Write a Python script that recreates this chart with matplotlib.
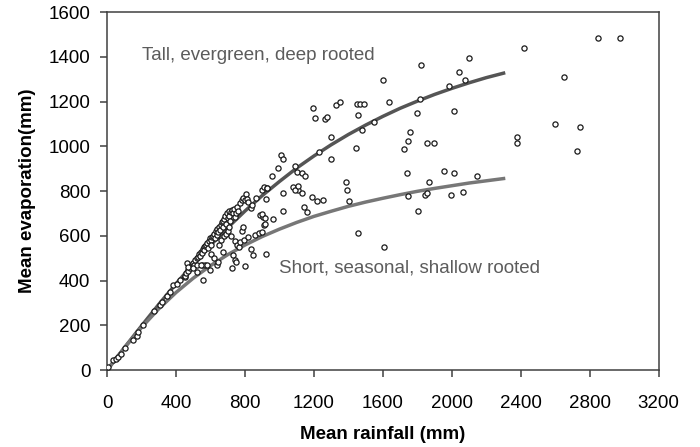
import matplotlib
matplotlib.use("Agg")
from matplotlib import pyplot as plt

plt.rcParams['font.family'] = ['Liberation Sans', 'DejaVu Sans']

# curves: tall/evergreen (upper) and short/seasonal (lower)
curve_rain = [0, 100, 200, 300, 400, 500, 600, 700, 800, 900, 1000, 1100, 1200, 1300,
              1400, 1500, 1600, 1700, 1800, 1900, 2000, 2100, 2200, 2300]
tall_evap = [0, 100, 198, 294, 386, 475, 558, 637, 711, 780, 843, 903, 957, 1007,
             1053, 1095, 1134, 1170, 1202, 1232, 1259, 1284, 1307, 1327]
short_evap = [0, 99, 191, 274, 347, 411, 467, 516, 559, 597, 630, 660, 687, 710,
              732, 751, 768, 784, 799, 812, 824, 836, 846, 856]

# catchment points (rainfall, evaporation)
rain = [8, 37, 50, 66, 81, 104, 153, 172, 181, 210, 274, 307, 321, 346,
        365, 384, 403, 423, 452, 462, 471, 491, 520, 549, 568,
        450, 460, 470, 480, 490, 500, 505, 510, 520, 530, 535, 540, 545, 550, 555,
        560, 565, 570, 575, 580, 585, 590, 595, 600, 605, 610, 615, 620, 625, 630,
        635, 640, 645, 650, 655, 660, 665, 670, 675, 680, 685, 690, 695, 700, 705,
        710, 715, 720, 725, 730, 735, 740, 745, 755, 760, 770, 780, 790,
        470, 500, 520, 545, 559, 578, 597, 600, 620, 636, 645, 650, 660, 674, 680,
        690, 700, 710, 720, 723, 732, 742, 742, 746, 751, 765, 771, 780, 790, 796,
        800, 800, 806, 813, 816, 817, 835, 835, 842, 848, 858, 862, 881, 887, 897,
        900, 902, 910, 912, 916, 920, 926, 955, 964, 929, 922, 897, 914,
        1010, 1018, 993, 1090, 1099, 1128, 1148, 1231, 1299, 1299, 1443, 1196, 1206,
        1264, 1273, 1328, 1354, 1447, 1467, 1490, 1457, 1022, 1080, 1109, 1128, 1186,
        1215, 1254, 1386, 1393, 1401, 1142, 1158, 1018, 1457, 1607, 1088, 1107,
        1598, 2043, 2079, 1983, 1637, 1814, 1795, 2013, 1548, 1480, 1760, 1747, 1720,
        1853, 1896, 1820, 2099, 2419, 2848, 2977, 2651, 2597, 2742, 2379, 2379, 2726,
        1737, 1954, 2013, 2147, 1867, 1747, 1843, 1853, 1994, 2066, 1805]
evap = [15, 45, 50, 60, 70, 97, 134, 152, 171, 201, 265, 291, 305, 331,
        350, 380, 387, 402, 417, 477, 447, 469, 439, 469, 469,
        420, 435, 445, 455, 470, 480, 470, 490, 500, 505, 520, 510, 530, 525, 540,
        550, 535, 555, 560, 570, 545, 575, 590, 580, 560, 595, 600, 610, 590, 620,
        605, 630, 615, 640, 625, 650, 660, 640, 665, 675, 690, 655, 700, 680, 710,
        690, 665, 705, 715, 700, 720, 685, 700, 730, 710, 745, 760, 770,
        460, 455, 470, 469, 402, 469, 447, 520, 500, 469, 484, 560, 580, 529, 600,
        610, 620, 640, 600, 457, 514, 492, 577, 481, 559, 551, 571, 620, 640, 581,
        466, 760, 787, 764, 596, 752, 541, 723, 737, 514, 606, 767, 611, 693, 615,
        804, 685, 819, 648, 651, 521, 812, 869, 675, 815, 764, 696, 678,
        961, 942, 901, 913, 887, 879, 867, 976, 942, 1040, 994, 1173, 1125,
        1122, 1132, 1183, 1199, 1190, 1190, 1190, 1140, 790, 819, 804, 790, 775,
        755, 760, 842, 803, 757, 727, 708, 709, 614, 551, 807, 824,
        1297, 1332, 1297, 1269, 1196, 1211, 1147, 1160, 1110, 1075, 1062, 1023, 988,
        1017, 1013, 1365, 1394, 1441, 1485, 1485, 1311, 1099, 1085, 1043, 1013, 980,
        879, 889, 882, 867, 840, 779, 782, 790, 782, 794, 711]

fig = plt.figure(figsize=(7, 4.47), dpi=100)
ax = fig.add_axes([0.153, 0.172, 0.788, 0.801])

ax.scatter(rain, evap, s=14, facecolors='white', edgecolors='#1a1a1a',
           linewidths=0.9, zorder=3)
ax.plot(curve_rain, tall_evap, color='#555555', lw=2.5, zorder=2)
ax.plot(curve_rain, short_evap, color='#777777', lw=2.5, zorder=2)

ax.text(200, 1408, "Tall, evergreen, deep rooted", fontsize=13.5,
        color='#5c5c5c', va='center', ha='left')
ax.text(1000, 456, "Short, seasonal, shallow rooted", fontsize=13.5,
        color='#5c5c5c', va='center', ha='left')

ax.set_xlim(0, 3200)
ax.set_ylim(0, 1600)
ax.set_xticks(range(0, 3201, 400))
ax.set_yticks(range(0, 1601, 200))
ax.tick_params(axis='x', direction='out', length=5, width=1.1, pad=13,
               labelsize=13.5, color='#404040')
ax.tick_params(axis='y', direction='out', length=5, width=1.1, pad=7,
               labelsize=13.5, color='#404040')
for sp in ax.spines.values():
    sp.set_color('#404040')
    sp.set_linewidth(1.1)

ax.set_xlabel("Mean rainfall (mm)", fontsize=13.5, fontweight='bold', labelpad=10)
ax.set_ylabel("Mean evaporation(mm)", fontsize=13.5, fontweight='bold', labelpad=9)

fig.savefig("out.png", dpi=100)
